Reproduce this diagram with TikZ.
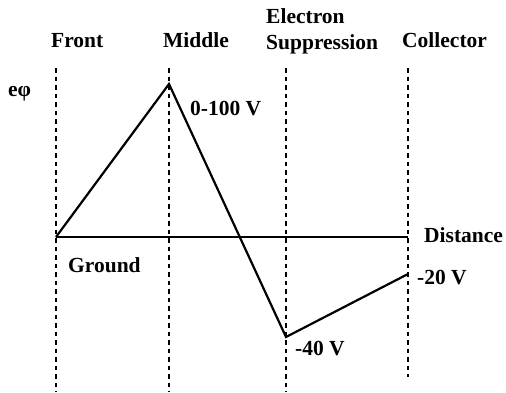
\documentclass[tikz,border=0pt]{standalone}
\usepackage{fontspec}
\setmainfont{Liberation Serif}
\usepackage{tikz}
\usetikzlibrary{positioning}
\tikzset{
  potlabel/.style={inner sep=0pt,anchor=base west,font=\fontsize{21.5}{26}\selectfont\bfseries,align=left},
  gridline/.style={dashed,dash pattern=on 4.5pt off 4pt,line width=1.3pt,draw=black},
  axisline/.style={line width=1.2pt,draw=black},
  profile/.style={line width=2.2pt,draw=black,line join=miter}
}

\begin{document}
\begin{tikzpicture}[x=1pt,y=-1pt]
\useasboundingbox (0,0) rectangle (506,392);
% electrode planes
\coordinate (fronttop) at (56,68);
\coordinate (frontbot) at (56,392);
\coordinate (midtop) at (169,68);
\coordinate (midbot) at (169,392);
\coordinate (supptop) at (286,68);
\coordinate (suppbot) at (286,392);
\coordinate (colltop) at (408,68);
\coordinate (collbot) at (408,377);
\draw[gridline] (fronttop)--(frontbot);
\draw[gridline] (midtop)--(midbot);
\draw[gridline] (supptop)--(suppbot);
\draw[gridline] (colltop)--(collbot);
% potential profile
\coordinate (ground) at (56,237);
\coordinate (peak) at (169,84);
\coordinate (dip) at (286,337);
\coordinate (collect) at (408,274);
\coordinate (axisend) at (408,237);
\draw[axisline] (ground)--(axisend);
\draw[profile] (ground)--(peak)--(dip)--(collect);
% labels
\node[potlabel] (front) at (51,47) {Front};
\node[potlabel] (middle) at (163,47) {Middle};
\node[potlabel] (electron) at (266,23) {Electron};
\node[potlabel] (suppr) at (266,49) {Suppression};
\node[potlabel] (collector) at (402,47) {Collector};
\node[potlabel] (ephi) at (8,96) {eφ};
\node[potlabel] (peakv) at (190,115) {0-100 V};
\node[potlabel] (groundl) at (68,272) {Ground};
\node[potlabel] (dist) at (424,242) {Distance};
\node[potlabel] (collv) at (417,284) {-20 V};
\node[potlabel] (suppv) at (295,355) {-40 V};
\end{tikzpicture}
\end{document}
